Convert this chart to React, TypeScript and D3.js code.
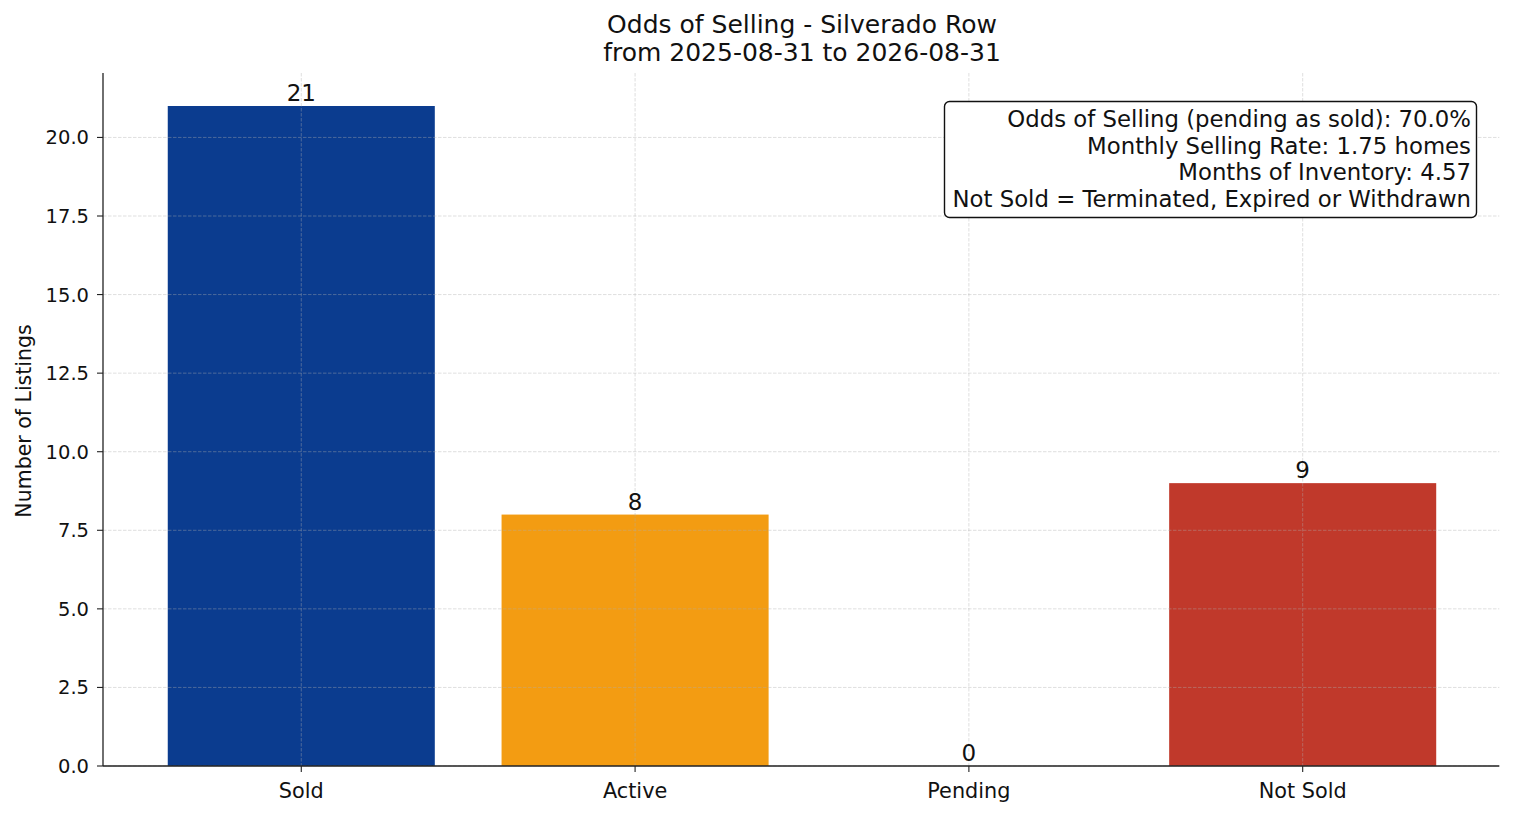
import { useMemo } from "react";
import * as d3 from "d3";

const categories = ["Sold", "Active", "Pending", "Not Sold"];
const counts = [21, 8, 0, 9];
const barColors = ["#0b3c8f", "#f39c12", "#8e44ad", "#c0392b"];
const yTicks = [0, 2.5, 5, 7.5, 10, 12.5, 15, 17.5, 20];
const titleLines = ["Odds of Selling - Silverado Row", "from 2025-08-31 to 2026-08-31"];
const noteLines = [
  "Odds of Selling (pending as sold): 70.0%",
  "Monthly Selling Rate: 1.75 homes",
  "Months of Inventory: 4.57",
  "Not Sold = Terminated, Expired or Withdrawn",
];

const W = 1514;
const H = 816;
const FONT = "'DejaVu Sans', sans-serif";

export default function App() {
  const margin = { top: 73, right: 14.7, bottom: 50, left: 103 };
  const innerW = W - margin.left - margin.right;
  const innerH = H - margin.top - margin.bottom;

  // linear x in category index units, matplotlib-style margins
  const x = useMemo(
    () => d3.scaleLinear().domain([-0.594, categories.length - 1 + 0.589]).range([0, innerW]),
    [innerW]
  );
  const y = useMemo(
    () => d3.scaleLinear().domain([0, d3.max(counts)! * 1.05]).range([innerH, 0]),
    [innerH]
  );
  const barW = x(0.4) - x(-0.4);

  return (
    <svg width={W} height={H} style={{ display: "block", margin: -8, fontFamily: FONT }}>
      <rect width={W} height={H} fill="#fff" />

      {/* Title */}
      {titleLines.map((t, i) => (
        <text key={t} x={802} y={33 + i * 28} textAnchor="middle" fontSize={25} fill="#111">
          {t}
        </text>
      ))}

      <g transform={`translate(${margin.left}, ${margin.top})`}>
        {/* Bars */}
        {counts.map((v, i) => (
          <rect
            key={categories[i]}
            x={x(i) - barW / 2}
            y={y(v)}
            width={barW}
            height={innerH - y(v)}
            fill={barColors[i]}
          />
        ))}

        {/* Grid (drawn above bars like the original) */}
        {yTicks.map((t) => (
          <line key={`gy${t}`} x1={0} x2={innerW} y1={y(t)} y2={y(t)} stroke="#b0b0b0" strokeOpacity={0.5} strokeWidth={0.8} strokeDasharray="3.5,1.5" />
        ))}
        {categories.map((c, i) => (
          <line key={`gx${c}`} x1={x(i)} x2={x(i)} y1={0} y2={innerH} stroke="#b0b0b0" strokeOpacity={0.5} strokeWidth={0.8} strokeDasharray="3.5,1.5" />
        ))}

        {/* Value labels */}
        {counts.map((v, i) => (
          <text key={`l${i}`} x={x(i)} y={y(v) - 5} textAnchor="middle" fontSize={23} fill="#111">
            {v}
          </text>
        ))}

        {/* Y axis */}
        <line x1={0} x2={0} y1={0} y2={innerH} stroke="#222" strokeWidth={1.3} />
        {yTicks.map((t) => (
          <g key={`ty${t}`} transform={`translate(0, ${y(t)})`}>
            <line x1={-6} x2={0} stroke="#222" strokeWidth={1.1} />
            <text x={-14} dy="0.36em" textAnchor="end" fontSize={19.5} fill="#111">
              {t.toFixed(1)}
            </text>
          </g>
        ))}

        {/* X axis */}
        <line x1={0} x2={innerW} y1={innerH} y2={innerH} stroke="#222" strokeWidth={1.3} />
        {categories.map((c, i) => (
          <g key={`tx${c}`} transform={`translate(${x(i)}, ${innerH})`}>
            <line y1={0} y2={6} stroke="#222" strokeWidth={1.1} />
            <text y={31.5} textAnchor="middle" fontSize={20.8} fill="#111">
              {c}
            </text>
          </g>
        ))}
      </g>

      {/* Y label */}
      <text transform="translate(30.5, 421) rotate(-90)" textAnchor="middle" fontSize={20.5} fill="#111">
        Number of Listings
      </text>

      {/* Note box */}
      <rect x={944.5} y={101.5} width={532} height={116} rx={5} fill="#fff" stroke="#111" strokeWidth={1.4} />
      {noteLines.map((t, i) => (
        <text key={t} x={1471} y={127 + i * 26.5} textAnchor="end" fontSize={22.8} fill="#111">
          {t}
        </text>
      ))}
    </svg>
  );
}
